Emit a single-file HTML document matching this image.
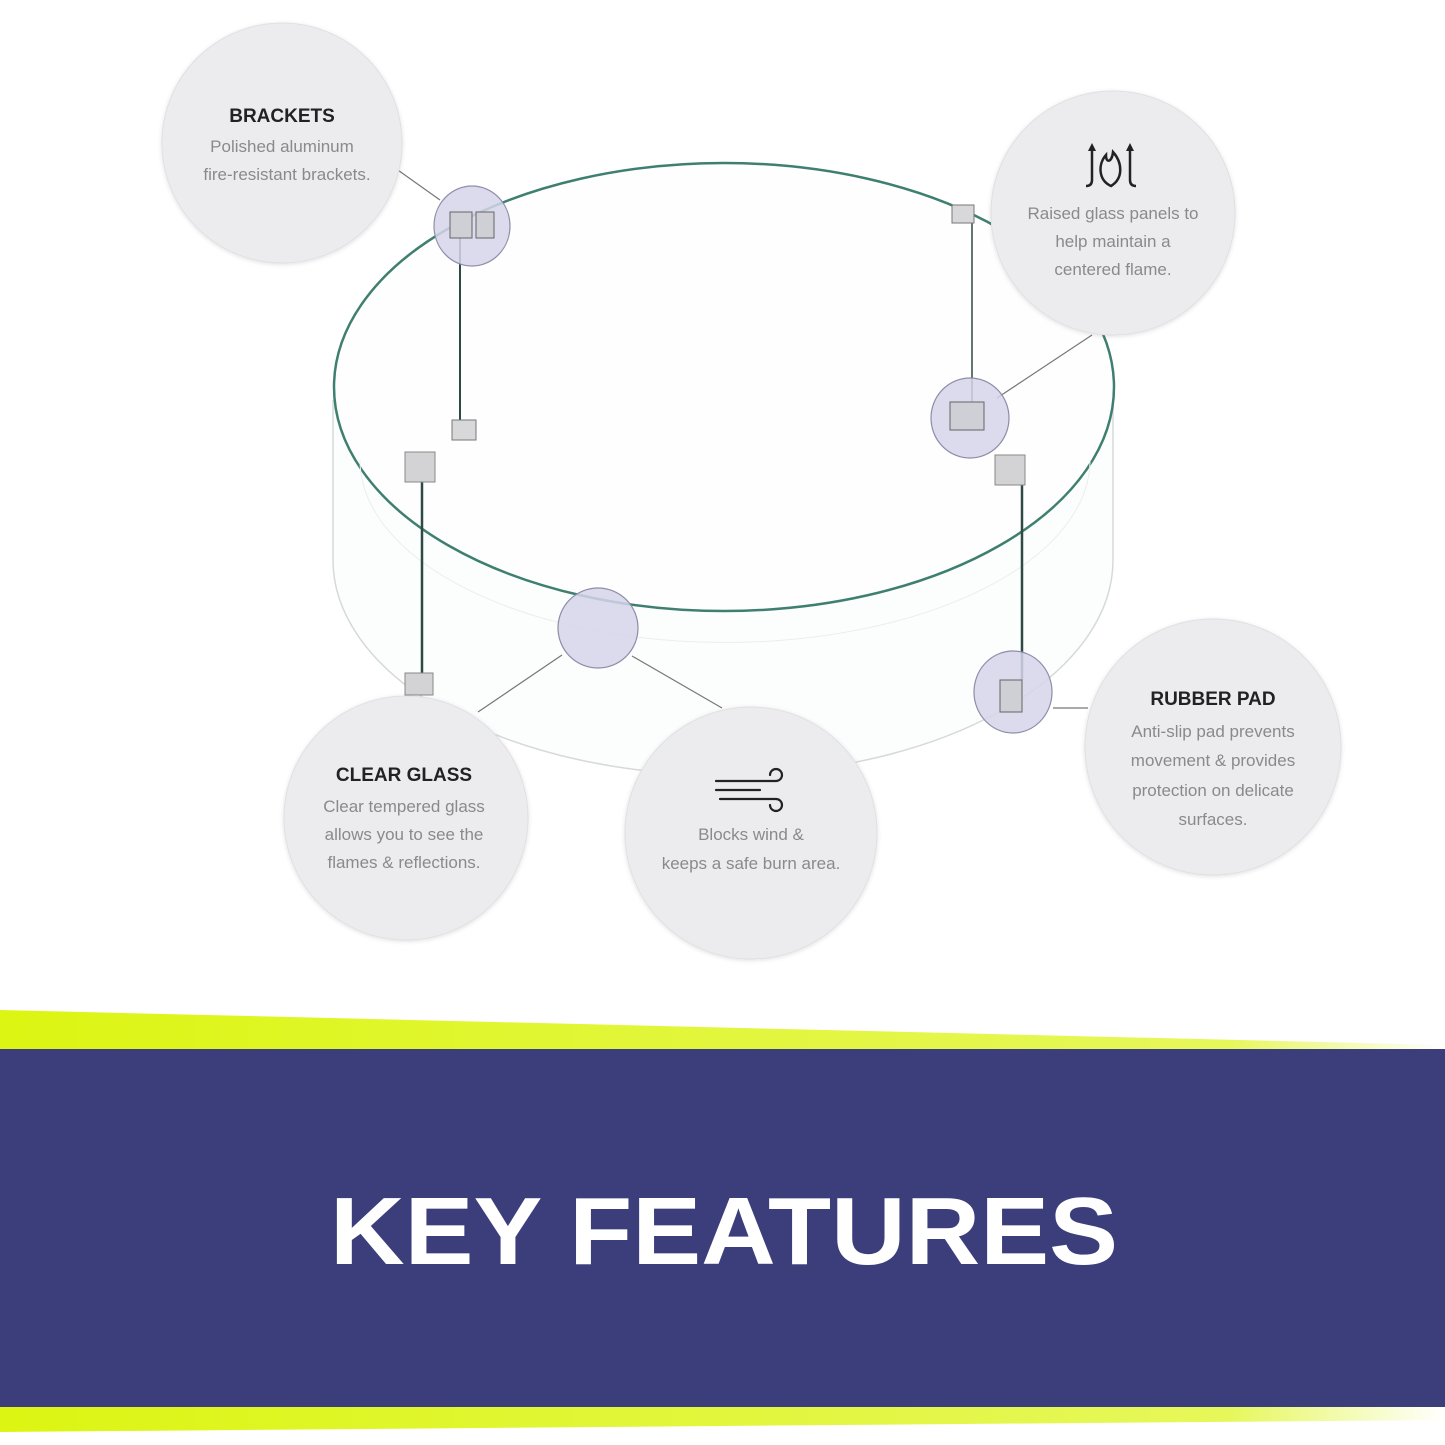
<!DOCTYPE html>
<html><head><meta charset="utf-8"><style>
html,body{margin:0;padding:0;background:#fff;}
svg{display:block}
.t{font-family:"Liberation Sans",Arial,sans-serif;font-weight:bold;font-size:19px;fill:#222;text-anchor:middle}
.b{font-family:"Liberation Sans",Arial,sans-serif;font-size:17px;fill:#8a8a8a;text-anchor:middle}
</style></head><body>
<svg width="1445" height="1445" viewBox="0 0 1445 1445" xmlns="http://www.w3.org/2000/svg">
<defs>
<linearGradient id="yg" x1="0" x2="1" y1="0" y2="0"><stop offset="0" stop-color="#dcf512"/><stop offset="0.85" stop-color="#e6f75a"/><stop offset="1" stop-color="#ffffff"/></linearGradient>
<filter id="sh" x="-10%" y="-10%" width="120%" height="120%"><feDropShadow dx="0" dy="1" stdDeviation="2" flood-color="#000" flood-opacity="0.12"/></filter>
</defs>
<rect width="1445" height="1445" fill="#fff"/>
<!-- banner -->
<polygon points="0,1010 1445,1045 1445,1052 0,1052" fill="url(#yg)"/>
<polygon points="0,1405 1445,1405 1445,1420 0,1432" fill="url(#yg)"/>
<rect x="0" y="1049" width="1445" height="358" fill="#3b3e7b"/>
<text x="330" y="1264" textLength="788" lengthAdjust="spacingAndGlyphs" font-family="Liberation Sans,Arial,sans-serif" font-weight="bold" font-size="96" fill="#fff">KEY FEATURES</text>

<!-- glass ring -->
<path d="M333,400 L333,560 A390,215 0 0 0 1113,560 L1113,400" fill="#fcfdfd" stroke="#d5dad9" stroke-width="1.5"/>
<ellipse cx="724" cy="387" rx="390" ry="224" fill="#fefefe" stroke="#3f7f6f" stroke-width="2.5"/>
<path d="M360,460 A360,180 0 0 0 1090,460" fill="none" stroke="#eceeee" stroke-width="1"/>
<line x1="460" y1="230" x2="460" y2="430" stroke="#2f4a44" stroke-width="2"/>
<line x1="972" y1="220" x2="972" y2="410" stroke="#2f4a44" stroke-width="1.5"/>
<line x1="422" y1="480" x2="422" y2="680" stroke="#2f4a44" stroke-width="2.5"/>
<line x1="1022" y1="485" x2="1022" y2="680" stroke="#2f4a44" stroke-width="2.5"/>
<rect x="405" y="452" width="30" height="30" fill="#d3d3d6" stroke="#888"/>
<rect x="995" y="455" width="30" height="30" fill="#d3d3d6" stroke="#888"/>
<rect x="405" y="673" width="28" height="22" fill="#d3d3d6" stroke="#888"/>
<rect x="452" y="420" width="24" height="20" fill="#d8d8db" stroke="#777"/>
<rect x="952" y="205" width="22" height="18" fill="#d8d8db" stroke="#777"/>

<!-- connectors -->
<g stroke="#777" stroke-width="1.2">
<line x1="395" y1="168" x2="440" y2="200"/>
<line x1="1092" y1="335" x2="997" y2="398"/>
<line x1="562" y1="655" x2="478" y2="712"/>
<line x1="632" y1="656" x2="722" y2="708"/>
<line x1="1053" y1="708" x2="1088" y2="708"/>
</g>
<!-- small circles -->
<g fill="#d5d5ea" fill-opacity="0.85" stroke="#8d8da8" stroke-width="1.2">
<ellipse cx="472" cy="226" rx="38" ry="40"/>
<ellipse cx="970" cy="418" rx="39" ry="40"/>
<ellipse cx="598" cy="628" rx="40" ry="40"/>
<ellipse cx="1013" cy="692" rx="39" ry="41"/>
</g>
<g fill="#cfcfd6" stroke="#666" stroke-width="1">
<rect x="450" y="212" width="22" height="26"/><rect x="476" y="212" width="18" height="26"/>
<rect x="950" y="402" width="34" height="28"/>
<rect x="1000" y="680" width="22" height="32"/>
</g>

<!-- big circles -->
<g fill="#ececef" stroke="#e0e0e4" stroke-width="1" filter="url(#sh)">
<circle cx="282" cy="143" r="120"/>
<circle cx="1113" cy="213" r="122"/>
<circle cx="406" cy="818" r="122"/>
<circle cx="751" cy="833" r="126"/>
<circle cx="1213" cy="747" r="128"/>
</g>

<text class="t" x="282" y="122">BRACKETS</text>
<text class="b" x="282" y="152">Polished aluminum</text>
<text class="b" x="287" y="180">fire-resistant brackets.</text>

<g fill="none" stroke="#222" stroke-width="2.5">
<path d="M1092,150 L1092,180 Q1092,186 1086,186"/>
<path d="M1130,150 L1130,180 Q1130,186 1136,186"/>
<path d="M1111,186 C1098,180 1098,164 1106,155 C1106,164 1112,162 1113,152 C1122,162 1124,178 1111,186 Z"/>
</g>
<path d="M1092,143 l-4,8 h8 z M1130,143 l-4,8 h8 z" fill="#222"/>
<text class="b" x="1113" y="219">Raised glass panels to</text>
<text class="b" x="1113" y="247">help maintain a</text>
<text class="b" x="1113" y="275">centered flame.</text>

<text class="t" x="404" y="781">CLEAR GLASS</text>
<text class="b" x="404" y="812">Clear tempered glass</text>
<text class="b" x="404" y="840">allows you to see the</text>
<text class="b" x="404" y="868">flames &amp; reflections.</text>

<g fill="none" stroke="#222" stroke-width="2.2" stroke-linecap="round">
<path d="M716,781 H776 A6,6 0 1 0 770,775"/>
<path d="M716,790 H760"/>
<path d="M720,799 H776 A6,6 0 1 1 770,805"/>
</g>
<text class="b" x="751" y="840">Blocks wind &amp;</text>
<text class="b" x="751" y="869">keeps a safe burn area.</text>

<text class="t" x="1213" y="705">RUBBER PAD</text>
<text class="b" x="1213" y="737">Anti-slip pad prevents</text>
<text class="b" x="1213" y="766">movement &amp; provides</text>
<text class="b" x="1213" y="796">protection on delicate</text>
<text class="b" x="1213" y="825">surfaces.</text>
</svg>
</body></html>
